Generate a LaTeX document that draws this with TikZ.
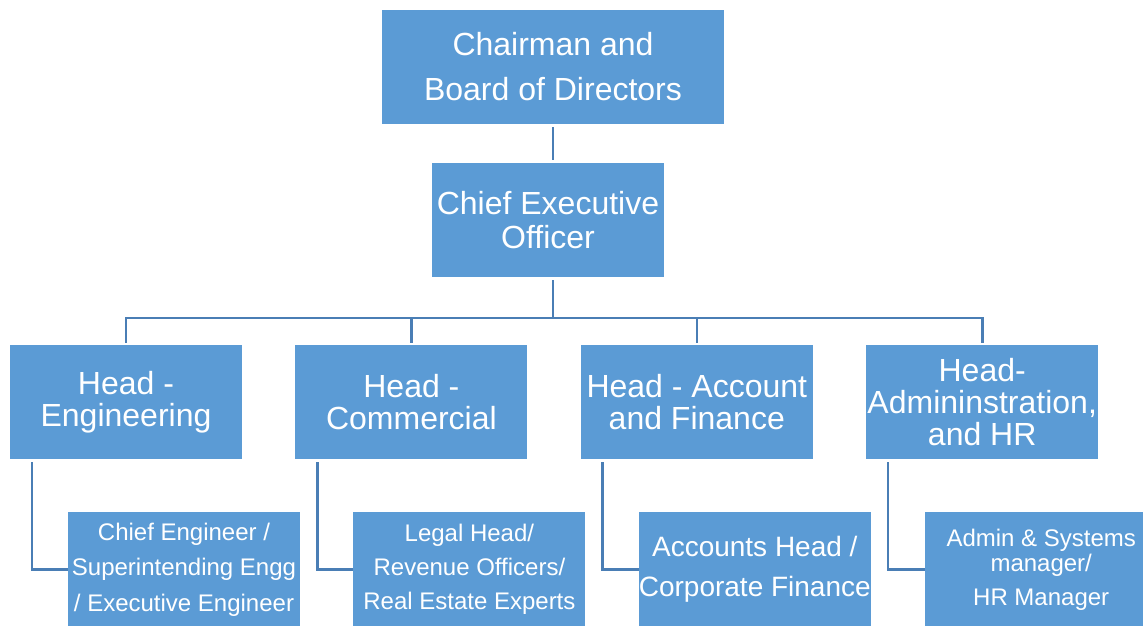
\documentclass[tikz,border=0pt]{standalone}
\usepackage{fontspec}
\setmainfont{Liberation Sans}
\usepackage{xcolor}
\usetikzlibrary{positioning, calc}
\definecolor{boxblue}{HTML}{5B9BD5}
\definecolor{linkblue}{HTML}{4A7EB5}

\begin{document}
\begin{tikzpicture}[
    x=1pt, y=-1pt,
    node distance=53pt and 53pt,
    every node/.style={
        fill=boxblue,
        text=white,
        align=center,
        inner sep=0pt,
        minimum width=232pt,
        minimum height=114pt
    },
    topnode/.style={font=\fontsize{32}{45}\selectfont},
    ceonode/.style={font=\fontsize{32}{34}\selectfont},
    headnode/.style={font=\fontsize{32}{32}\selectfont},
    subnode/.style={font=\fontsize{24}{35}\selectfont}
]
\useasboundingbox (0,0) rectangle (1143,625);
\clip (0,0) rectangle (1143,625);
% top of the chart
\node[topnode, minimum width=342pt] (chairman) at (553,67) {Chairman and\\Board of Directors};
\node[ceonode] (ceo) at (548,220) {Chief Executive\\Officer};
% heads
\node[headnode] (eng) at (126,402) {Head -\\Engineering};
\node[headnode] (com) [right=of eng] {Head -\\Commercial};
\node[headnode] (acc) [right=of com] {Head - Account\\and Finance};
\node[headnode] (adm) [right=of acc] {Head-\\Admininstration,\\and HR};
% staff under each head
\node[subnode, font=\fontsize{24}{35.5}\selectfont] (sub_eng) [below=53pt of eng, xshift=58pt] {Chief Engineer /\\Superintending Engg\\/ Executive Engineer};
\node[subnode, font=\fontsize{24}{34}\selectfont] (sub_com) [below=53pt of com, xshift=58pt] {Legal Head/\\Revenue Officers/\\Real Estate Experts};
\node[subnode, font=\fontsize{28}{40}\selectfont] (sub_acc) [below=53pt of acc, xshift=58pt] {Accounts Head /\\Corporate Finance};
\node[subnode, font=\fontsize{24}{25}\selectfont] (sub_adm) [below=53pt of adm, xshift=59pt] {Admin \& Systems\\manager/\\[9pt]HR Manager};
% connectors
\tikzset{link/.style={draw=linkblue, line width=2.6pt}}
\coordinate (bus) at (chairman.south |- 0,318);
\draw[link, shorten <=3pt, shorten >=3pt] (chairman.south) -- (chairman.south |- ceo.north);
\draw[link, shorten <=3pt] (chairman.south |- ceo.south) -- (bus);
\foreach \h in {eng, com, acc, adm}
    \draw[link, shorten >=2pt] (bus) -| (\h.north);
\foreach \h in {eng, com, acc, adm}
    \draw[link, shorten <=3pt] ([xshift=22pt]\h.south west) |- (sub_\h.west);
\end{tikzpicture}
\end{document}
